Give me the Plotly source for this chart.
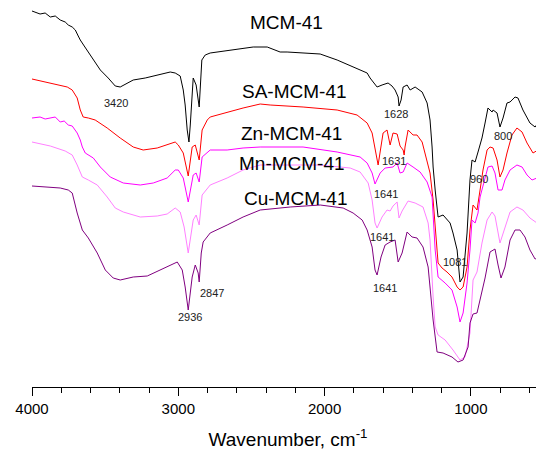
import plotly.graph_objects as go

# ---- data (wavenumber, cm-1  /  transmittance, arbitrary offset units) ----
mcm_wn = [4000, 3945, 3910, 3875, 3841, 3807, 3773, 3752, 3725, 3704, 3684, 3670, 3643, 3615, 3568, 3533,
          3479, 3431, 3397, 3363, 3308, 3226, 3123, 3055, 3021, 2987, 2966, 2953, 2939, 2927, 2918, 2898,
          2878, 2857, 2839, 2816, 2782, 2625, 2488, 2392, 2304, 2256, 2030, 1914, 1805, 1709, 1689, 1641,
          1607, 1566, 1539, 1518, 1497, 1491, 1477, 1463, 1436, 1415, 1381, 1333, 1299, 1279, 1265, 1258,
          1244, 1224, 1190, 1142, 1122, 1094, 1074, 1053, 1026, 1012, 1006, 992, 971, 951, 924, 903, 883,
          855, 848, 821, 801, 780, 753, 732, 698, 678, 644, 596, 561, 541, 514, 500]
mcm_t = [376, 373, 374, 370, 371, 367, 365, 362, 360, 357, 351, 347, 341, 335, 325, 317,
         309, 301, 300, 303, 307, 309, 313, 315, 314, 311, 297, 282, 257, 245, 262, 309,
         302, 280, 327, 332, 334, 337, 340, 340, 335, 335, 333, 327, 320, 314, 309, 300,
         302, 304, 301, 297, 290, 281, 287, 300, 302, 297, 300, 295, 284, 267, 240, 220,
         197, 170, 172, 164, 154, 137, 105, 110, 154, 187, 207, 227, 225, 235, 249, 264, 279,
         275, 277, 274, 260, 269, 284, 285, 290, 289, 277, 264, 260, 264, 260, 240]

sa_wn = [4000, 3875, 3759, 3725, 3691, 3670, 3650, 3615, 3568, 3486, 3397, 3308, 3240, 3144, 3076, 3021,
         3000, 2966, 2932, 2905, 2884, 2857, 2837, 2802, 2782, 2666, 2557, 2440, 2372, 2147, 1914, 1778,
         1709, 1675, 1655, 1634, 1600, 1573, 1552, 1532, 1504, 1484, 1463, 1456, 1450, 1429, 1395, 1368,
         1333, 1299, 1279, 1258, 1244, 1231, 1224, 1197, 1163, 1129, 1094, 1074, 1053, 1026, 1006, 985,
         958, 937, 917, 889, 869, 848, 821, 801, 780, 753, 719, 685, 650, 616, 575, 541, 514, 500]
sa_t = [308, 304, 300, 297, 289, 277, 270, 269, 267, 259, 249, 240, 237, 239, 242, 245,
        242, 234, 211, 240, 242, 227, 257, 267, 270, 275, 279, 283, 282, 280, 277, 272,
        264, 254, 237, 222, 254, 257, 242, 254, 253, 241, 237, 232, 240, 257, 252, 252,
        245, 227, 214, 187, 157, 137, 124, 119, 115, 110, 100, 97, 100, 120, 157, 182,
        177, 197, 217, 237, 240, 239, 227, 210, 217, 234, 252, 259, 255, 244, 234, 237, 230, 220]

zn_wn = [4000, 3945, 3910, 3875, 3841, 3807, 3780, 3752, 3725, 3691, 3670, 3656, 3636, 3581, 3533, 3465,
         3376, 3260, 3171, 3076, 3021, 3000, 2966, 2932, 2898, 2878, 2857, 2837, 2782, 2666, 2557, 2440,
         2372, 2147, 1914, 1757, 1709, 1675, 1655, 1620, 1586, 1532, 1504, 1484, 1463, 1436, 1395, 1347,
         1299, 1265, 1244, 1224, 1176, 1129, 1094, 1074, 1053, 1026, 1006, 992, 971, 951, 937, 903, 883,
         855, 835, 814, 787, 767, 732, 685, 650, 616, 582, 548, 514, 500]
zn_t = [269, 270, 268, 269, 270, 265, 266, 262, 261, 254, 247, 240, 234, 229, 220, 210,
        204, 202, 204, 209, 217, 217, 209, 185, 212, 214, 205, 230, 237, 237, 239, 240,
        240, 240, 235, 230, 224, 214, 203, 214, 219, 220, 224, 214, 215, 224, 220, 215,
        205, 190, 137, 110, 104, 97, 80, 65, 74, 104, 137, 167, 164, 174, 190, 210, 220,
        221, 214, 197, 197, 207, 217, 222, 220, 212, 207, 209, 204, 200]

mn_wn = [4000, 3875, 3773, 3725, 3691, 3656, 3615, 3554, 3486, 3431, 3376, 3260, 3144, 3076, 3021, 2987,
         2960, 2932, 2898, 2878, 2857, 2837, 2782, 2666, 2557, 2440, 2235, 2030, 1825, 1757, 1702, 1675,
         1655, 1641, 1607, 1573, 1552, 1532, 1504, 1491, 1470, 1429, 1381, 1327, 1292, 1279, 1258, 1244,
         1224, 1176, 1122, 1074, 1040, 1006, 985, 958, 924, 889, 855, 835, 801, 780, 732, 685, 644, 596,
         548, 514, 500]
mn_t = [245, 241, 236, 232, 222, 210, 207, 202, 190, 179, 175, 170, 171, 173, 179, 175,
        160, 134, 167, 172, 162, 192, 202, 209, 217, 222, 222, 222, 219, 215, 204, 187,
        164, 159, 170, 177, 176, 181, 185, 169, 176, 186, 184, 180, 164, 147, 90, 60,
        52, 47, 37, 27, 30, 54, 107, 115, 144, 167, 175, 171, 144, 154, 175, 180, 177, 169,
        164, 166, 160]

cu_wn = [4000, 3875, 3807, 3752, 3725, 3691, 3656, 3615, 3554, 3499, 3445, 3397, 3308, 3212, 3123, 3055,
         3007, 2973, 2953, 2932, 2905, 2884, 2864, 2857, 2843, 2830, 2782, 2666, 2557, 2440, 2235, 2030,
         1873, 1805, 1743, 1709, 1675, 1655, 1641, 1614, 1586, 1552, 1518, 1497, 1470, 1436, 1402, 1368,
         1327, 1292, 1258, 1231, 1190, 1129, 1088, 1053, 1019, 1006, 985, 958, 937, 903, 869, 835, 814,
         794, 767, 732, 698, 664, 630, 596, 561, 541, 514, 500]
cu_t = [201, 200, 199, 197, 194, 174, 157, 149, 134, 117, 109, 107, 110, 111, 117, 122,
        125, 117, 100, 77, 110, 122, 114, 105, 134, 145, 154, 162, 170, 177, 180, 182,
        179, 174, 167, 157, 140, 117, 112, 130, 142, 145, 147, 125, 134, 155, 150, 149,
        140, 120, 67, 35, 34, 30, 25, 27, 40, 64, 73, 74, 87, 109, 135, 138, 122,
        109, 120, 147, 157, 157, 150, 137, 128, 129, 122, 97]

series_names = ["MCM-41", "SA-MCM-41", "Zn-MCM-41", "Mn-MCM-41", "Cu-MCM-41"]
series_x = [mcm_wn, sa_wn, zn_wn, mn_wn, cu_wn]
series_y = [mcm_t, sa_t, zn_t, mn_t, cu_t]
series_colors = ["#000000", "#FF0000", "#FF00FF", "#FF80FF", "#800080"]

# curve name labels: (text, wavenumber, y)
name_labels = [("MCM-41", 2263, 365), ("SA-MCM-41", 2208, 296), ("Zn-MCM-41", 2229, 254),
               ("Mn-MCM-41", 2222, 224), ("Cu-MCM-41", 2201, 189)]
# band labels
band_labels = [("3420", 3424, 284), ("1628", 1511, 273), ("1631", 1525, 226), ("1641", 1580, 193),
               ("1641", 1607, 150), ("1641", 1586, 99), ("1081", 1108, 125), ("800", 780, 251),
               ("960", 944, 208), ("2847", 2768, 94), ("2936", 2918, 70)]

FONT = "Arial, Liberation Sans, sans-serif"

fig = go.Figure()
for name, xs, ys, c in zip(series_names, series_x, series_y, series_colors):
    fig.add_trace(go.Scatter(x=xs, y=ys, mode="lines", name=name,
                             line=dict(color=c, width=1)))

annotations = []
for t, x, y in name_labels:
    annotations.append(dict(text=t, x=x, y=y, xref="x", yref="y", showarrow=False,
                            font=dict(family=FONT, size=19, color="#000000")))
for t, x, y in band_labels:
    annotations.append(dict(text=t, x=x, y=y, xref="x", yref="y", showarrow=False,
                            font=dict(family=FONT, size=11, color="#222222")))

fig.update_layout(
    width=536, height=442,
    margin=dict(l=24, r=0, t=0, b=63, autoexpand=False),
    paper_bgcolor="white", plot_bgcolor="white",
    showlegend=False,
    annotations=annotations,
    font=dict(family=FONT, color="#000000"),
    xaxis=dict(range=[4000, 500], tick0=0, dtick=1000, ticks="outside", ticklen=8, tickwidth=1,
               tickcolor="#000000", showline=True, linecolor="#000000", linewidth=1,
               showgrid=False, zeroline=False, automargin=False, ticklabelstandoff=0,
               tickfont=dict(family=FONT, size=15, color="#000000"),
               minor=dict(dtick=200, tick0=0, ticks="outside", ticklen=5, tickwidth=1, tickcolor="#000000",
                          showgrid=False),
               title=dict(text="Wavenumber, cm<sup>-1</sup>", standoff=17,
                          font=dict(family=FONT, size=19, color="#000000"))),
    yaxis=dict(range=[0, 379], visible=False, showgrid=False, zeroline=False, automargin=False),
)

fig.write_html("out.html")
